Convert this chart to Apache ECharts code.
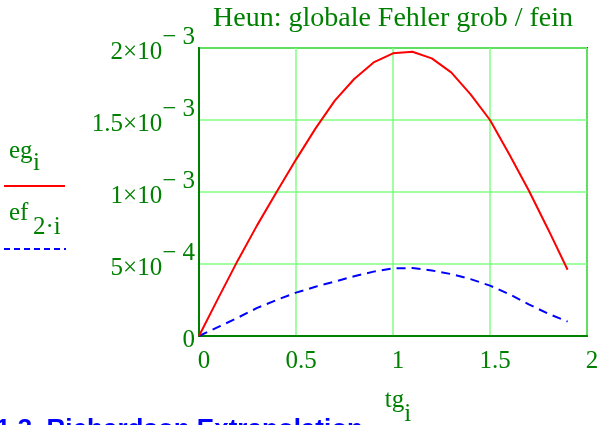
<!DOCTYPE html>
<html>
<head>
<meta charset="utf-8">
<script src="https://cdn.jsdelivr.net/npm/echarts@6/dist/echarts.min.js"></script>
<style>
  html, body { margin: 0; padding: 0; background: #ffffff; }
  #chart { width: 597px; height: 425px; }
</style>
</head>
<body>
<div id="chart"></div>
<script>
// Zeitpunkte des groben Gitters
const tg = [0, 0.1, 0.2, 0.3, 0.4, 0.5, 0.6, 0.7, 0.8, 0.9,
            1.0, 1.1, 1.2, 1.3, 1.4, 1.5, 1.6, 1.7, 1.8, 1.9];
// globaler Fehler, grobe Schrittweite (eg_i)
const eg = [0, 0.000265, 0.000525, 0.00077, 0.001, 0.001225, 0.00144, 0.001635, 0.001785, 0.0019,
            0.001963, 0.001974, 0.001928, 0.001831, 0.001678, 0.0015, 0.00126, 0.00101, 0.00074, 0.00046];
// globaler Fehler, feine Schrittweite (ef_2i)
const ef = [0, 0.000063, 0.000127, 0.000195, 0.00025, 0.000301, 0.000342, 0.000378, 0.000415, 0.000447,
            0.00047, 0.000472, 0.000455, 0.00043, 0.000395, 0.00035, 0.00029, 0.00022, 0.000155, 0.0001];
// Achsenbeschriftung der y-Achse: Mantisse und Exponent
const yTickValues = [0, 0.0005, 0.001, 0.0015, 0.002];
const yTickMant = ['0', '5×10', '1×10', '1.5×10', '2×10'];
const yTickExp = ['', '− 4', '− 3', '− 3', '− 3'];
const xTickLabels = ['0', '0.5', '1', '1.5', '2'];

const GREEN = '#008000';
const GRIDGREEN = '#80ff80';
const SERIF = '"Liberation Serif", "DejaVu Serif", serif';

const chart = echarts.init(document.getElementById('chart'), null, { renderer: 'canvas' });

chart.setOption({
  animation: false,
  backgroundColor: '#ffffff',
  title: {
    text: 'Heun: globale Fehler grob / fein',
    left: 388,
    top: 0,
    padding: 5,
    textAlign: 'center',
    textStyle: { color: GREEN, fontFamily: SERIF, fontWeight: 'normal', fontSize: 28 }
  },
  grid: {
    left: 199, top: 48, right: 10, bottom: 89,
    outerBoundsMode: 'none',
    containLabel: false,
    show: true, borderColor: GREEN, borderWidth: 2, backgroundColor: 'transparent'
  },
  xAxis: {
    type: 'value', min: 0, max: 2, interval: 0.5,
    axisLine: { show: true, lineStyle: { color: GREEN, width: 2 } },
    axisTick: { show: false },
    splitLine: { show: true, lineStyle: { color: GRIDGREEN, width: 1.5 } },
    axisLabel: {
      margin: 13, color: GREEN, fontFamily: SERIF, fontSize: 25,
      padding: [0, 0, 0, 10],
      formatter: v => xTickLabels[Math.round(v / 0.5)]
    },
    name: '{m|tg}{s|i}',
    nameLocation: 'middle',
    nameGap: 38,
    nameTextStyle: {
      padding: [0, 0, 0, 10],
      rich: {
        m: { color: GREEN, fontFamily: SERIF, fontSize: 25 },
        s: { color: GREEN, fontFamily: SERIF, fontSize: 25, padding: [28, 0, 0, 0] }
      }
    }
  },
  yAxis: {
    type: 'value', min: 0, max: 0.002, interval: 0.0005,
    axisLine: { show: true, lineStyle: { color: GREEN, width: 2 } },
    axisTick: { show: false },
    splitLine: { show: true, lineStyle: { color: GRIDGREEN, width: 1.5 } },
    axisLabel: {
      margin: 4,
      formatter: v => {
        const k = yTickValues.findIndex(t => Math.abs(t - v) < 1e-9);
        if (k < 0) return '';
        if (!yTickExp[k]) return '{m|' + yTickMant[k] + '}';
        return '{m|' + yTickMant[k] + '}{s|' + yTickExp[k] + '}';
      },
      rich: {
        m: { color: GREEN, fontFamily: SERIF, fontSize: 25, padding: [9, 0, 0, 0] },
        s: { color: GREEN, fontFamily: SERIF, fontSize: 25, padding: [0, 0, 22, 0] }
      }
    }
  },
  series: [
    {
      name: 'eg', type: 'line', data: tg.map((t, i) => [t, eg[i]]),
      symbol: 'none', lineStyle: { color: '#ff0000', width: 2 }, z: 3
    },
    {
      name: 'ef', type: 'line', data: tg.map((t, i) => [t, ef[i]]),
      symbol: 'none', lineStyle: { color: '#0000ff', width: 2, type: [9, 6] }, z: 2
    }
  ],
  graphic: [
    // Legende links neben dem Diagramm
    { type: 'text', left: 9, top: 139, style: { text: 'eg', fill: GREEN, font: '25px ' + SERIF } },
    { type: 'text', left: 33, top: 151, style: { text: 'i', fill: GREEN, font: '25px ' + SERIF } },
    { type: 'line', shape: { x1: 4, y1: 186, x2: 65, y2: 186 }, style: { stroke: '#ff0000', lineWidth: 2 } },
    { type: 'text', left: 9, top: 201, style: { text: 'ef', fill: GREEN, font: '25px ' + SERIF } },
    { type: 'text', left: 33, top: 215, style: { text: '2·i', fill: GREEN, font: '25px ' + SERIF } },
    { type: 'line', shape: { x1: 4, y1: 249, x2: 66, y2: 249 }, style: { stroke: '#0000ff', lineWidth: 2, lineDash: [6, 4] } },
    // Abschnittsüberschrift unter dem Diagramm
    { type: 'text', left: -4, top: 417, style: {
        text: '1.3  Richardson Extrapolation', fill: '#0000ff',
        font: 'bold 26px "Liberation Sans", Arial, sans-serif' } }
  ]
});
</script>
</body>
</html>
